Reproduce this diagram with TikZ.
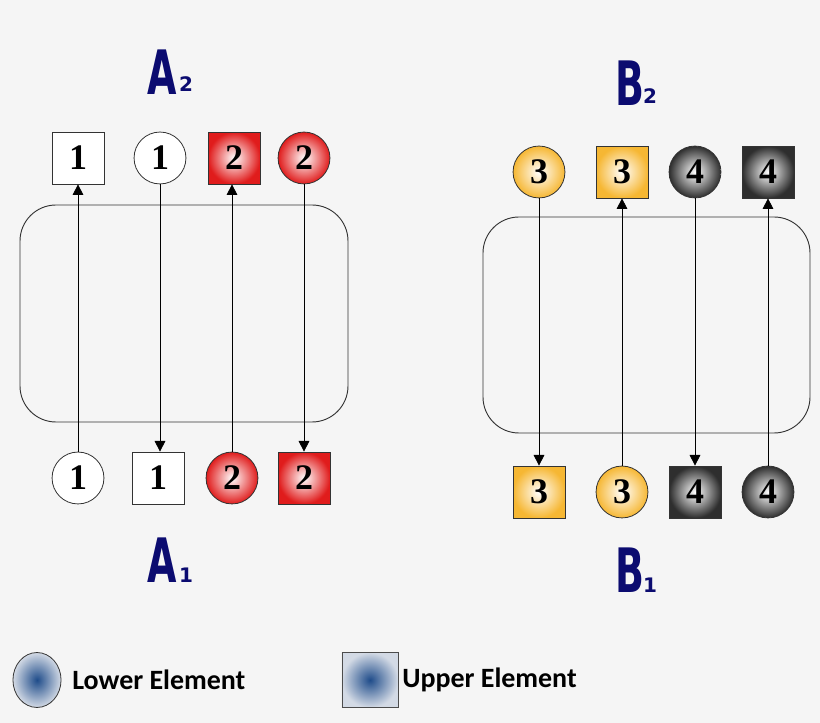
\documentclass[tikz,border=0pt]{standalone}
\usepackage{fontspec}
\setmainfont{Liberation Serif}
\newfontfamily\lab{Carlito}
\newfontfamily\bigf{DejaVu Sans}
\usetikzlibrary{arrows.meta,shapes.geometric}
\definecolor{bg}{HTML}{F5F5F5}
\definecolor{redc}{HTML}{E01C1C}
\definecolor{goldc}{HTML}{F6B733}
\definecolor{grayc}{HTML}{2E2E2E}
\definecolor{navy}{HTML}{0B0B70}
\definecolor{blu}{HTML}{1F4C8A}
\definecolor{blul}{HTML}{D3DAE5}
\tikzset{
 num/.style={font=\bfseries\fontsize{27}{27}\selectfont, draw=black!80, line width=0.6pt, inner sep=0pt},
 circ/.style={num, circle, minimum size=1.37cm},
 sq/.style={num, rectangle, minimum size=1.37cm},
 plainc/.style={circ, fill=white},
 plains/.style={sq, fill=white},
 redci/.style={circ, inner color=white, outer color=redc},
 redsq/.style={sq, inner color=white, outer color=redc},
 goldci/.style={circ, inner color=white, outer color=goldc},
 goldsq/.style={sq, inner color=white, outer color=goldc},
 grayci/.style={circ, inner color=white, outer color=grayc},
 graysq/.style={sq, inner color=white, outer color=grayc},
 conn/.style={-{Triangle[length=8pt,width=8pt]}, line width=0.6pt},
 panel/.style={draw=black!80, line width=0.7pt, rounded corners=0.95cm},
 big/.style={text=navy, font=\bigf\bfseries\fontsize{46}{46}\selectfont, inner sep=0pt, xscale=0.62},
 sub/.style={text=navy, font=\bigf\bfseries\fontsize{15}{15}\selectfont, inner sep=0pt},
 legtxt/.style={font=\lab\bfseries\fontsize{21}{21}\selectfont, anchor=west, inner sep=0pt}
}
\begin{document}
\begin{tikzpicture}[x=0.0264cm,y=-0.0264cm]
\fill[bg] (0,0) rectangle (820,723);
\useasboundingbox (0,0) rectangle (820,723);
\draw[panel] (20,205) rectangle (348,422);
\draw[panel] (483,217) rectangle (810,433);
% A
\node[plains] (at1) at (78,158) {1};
\node[plainc] (at2) at (160,158) {1};
\node[redsq] (at3) at (234,158) {2};
\node[redci] (at4) at (304,158) {2};
\node[plainc] (ab1) at (78,478) {1};
\node[plains] (ab2) at (158,478) {1};
\node[redci] (ab3) at (232,478) {2};
\node[redsq] (ab4) at (304,478) {2};
\draw[conn] (ab1) -- (at1);
\draw[conn] (at2.south) -- (at2.south |- ab2.north);
\draw[conn] (ab3) -- (ab3 |- at3.south);
\draw[conn] (at4) -- (ab4);
% B
\node[goldci] (bt1) at (539,172) {3};
\node[goldsq] (bt2) at (622,172) {3};
\node[grayci] (bt3) at (695,172) {4};
\node[graysq] (bt4) at (768,172) {4};
\node[goldsq] (bb1) at (539,492) {3};
\node[goldci] (bb2) at (622,492) {3};
\node[graysq] (bb3) at (695,492) {4};
\node[grayci] (bb4) at (768,492) {4};
\draw[conn] (bt1) -- (bb1);
\draw[conn] (bb2) -- (bt2);
\draw[conn] (bt3) -- (bb3);
\draw[conn] (bb4) -- (bt4);
% labels
\node[big] (la2) at (162,72) {A};
\node[sub] (la2s) at (186,84) {2};
\node[big] (la1) at (162,560) {A};
\node[sub] (la1s) at (186,575) {1};
\node[big] (lb2) at (630,83) {B};
\node[sub] (lb2s) at (650,96) {2};
\node[big] (lb1) at (630,570) {B};
\node[sub] (lb1s) at (650,585) {1};
% legend
\node[ellipse, draw=black!80, line width=0.6pt, minimum width=1.27cm, minimum height=1.45cm, inner color=blu, outer color=blul] (le) at (37,680) {};
\node[legtxt] (lt) at (72,680) {Lower Element};
\node[rectangle, draw=black!70, line width=0.6pt, minimum width=1.48cm, minimum height=1.45cm, inner color=blu, outer color=blul] (ue) at (370,680) {};
\node[legtxt] (ut) at (402,680) {Upper Element};
\end{tikzpicture}
\end{document}
